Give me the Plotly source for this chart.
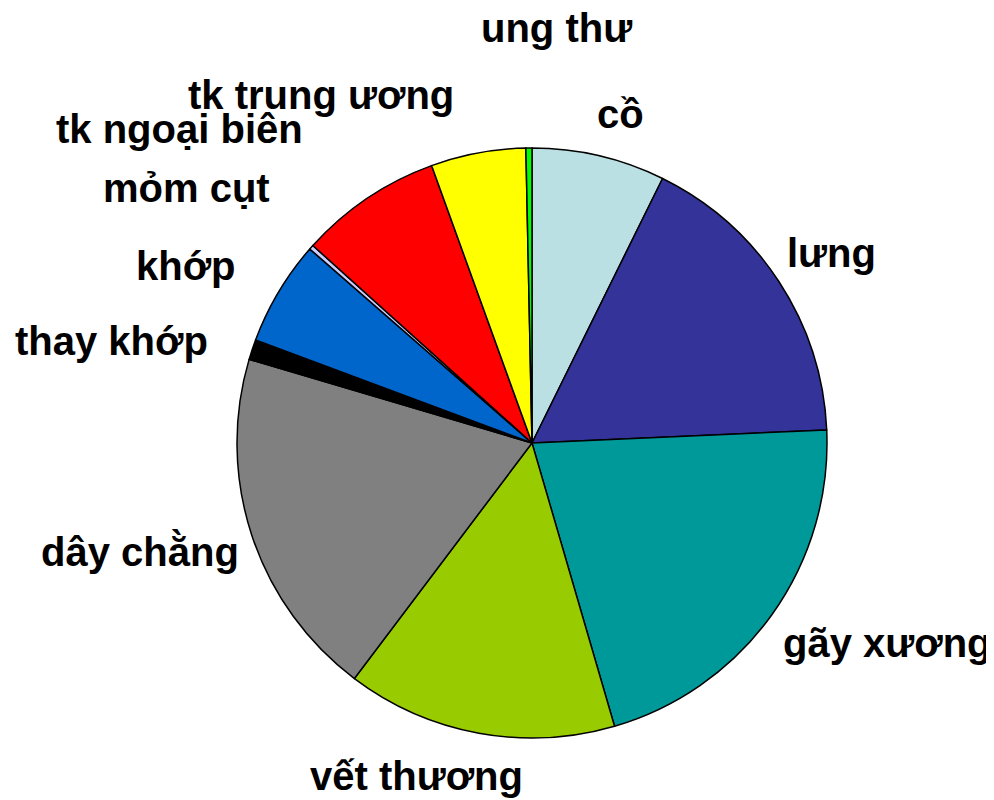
import plotly.graph_objects as go

# Data (percent shares)
categories = ["cồ", "lưng", "gãy xương", "vết thương", "dây chằng", "thay khớp",
              "khớp", "mỏm cụt", "tk ngoại biên", "tk trung ương", "ung thư"]
values = [7.3, 17.0, 21.2, 14.8, 19.3, 1.1, 5.75, 0.25, 7.8, 5.2, 0.33]

colors = ["#BBE0E3", "#333399", "#009999", "#99CC00", "#808080", "#000000",
          "#0066CC", "#CCCCFF", "#FF0000", "#FFFF00", "#00FF00"]

# label placement (pixel centres in the 994x800 reference)
label_px = [(620, 114), (831, 253), (887, 643), (416, 776), (140, 551), (111, 341),
            (186, 266), (186, 188), (179, 129), (321, 95), (556, 28)]

W, H = 994, 800
OFF = 8  # page body margin in the browser
cx, cy, r = 532 - OFF, 443 - OFF, 295

fig = go.Figure(go.Pie(
    labels=categories,
    values=values,
    marker=dict(colors=colors, line=dict(color="black", width=1.5)),
    sort=False,
    direction="clockwise",
    rotation=0,
    textinfo="none",
    hoverinfo="label+percent",
    showlegend=False,
    domain=dict(x=[(cx - r) / W, (cx + r) / W],
                y=[(H - cy - r) / H, (H - cy + r) / H]),
))

annotations = []
for name, (px, py) in zip(categories, label_px):
    annotations.append(dict(
        text=f"<b>{name}</b>", x=(px - OFF) / W, y=1 - (py - OFF) / H,
        xref="paper", yref="paper",
        xanchor="center", yanchor="middle", showarrow=False,
        font=dict(family="Liberation Sans, Arial, sans-serif", size=40, color="black"),
    ))

fig.update_layout(
    width=W, height=H,
    margin=dict(l=0, r=0, t=0, b=0),
    paper_bgcolor="white", plot_bgcolor="white",
    annotations=annotations,
)

fig.write_html("out.html")
